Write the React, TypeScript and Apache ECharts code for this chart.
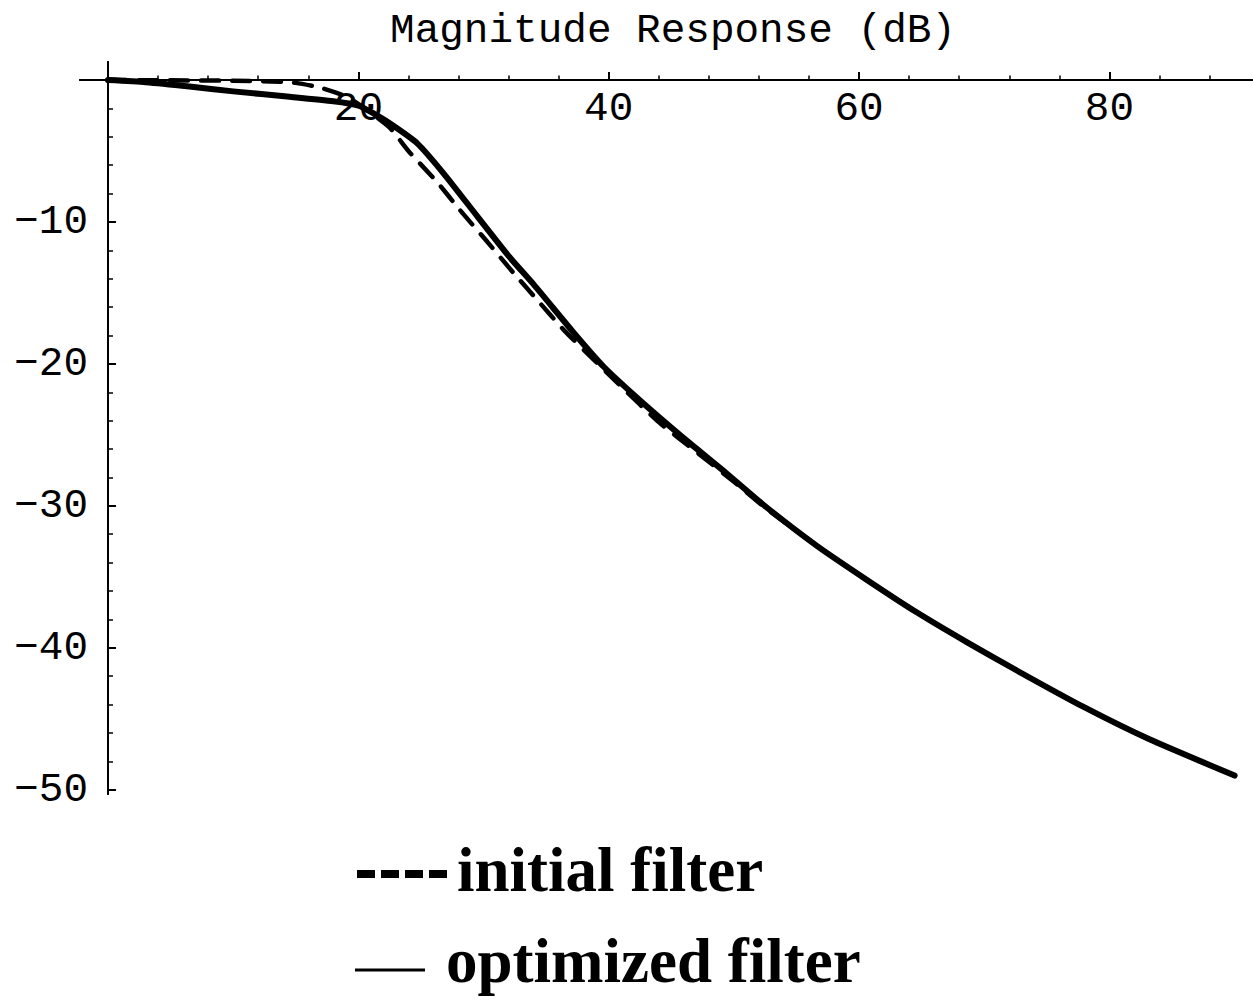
import React, { useEffect, useRef } from "react";
import * as echarts from "echarts";

// Frequency values (x) and magnitude in dB (y)
const freqOptimized = [0, 3, 6.5, 10, 14.5, 18, 20, 21, 22.5, 24.7, 26.8, 29.5, 32.1, 34, 37.2, 39.6, 42.8, 46.5, 49.4, 52.6, 56.6, 60.6, 64.6, 68.6, 72.6, 77.9, 83.2, 90];
const dbOptimized = [0, -0.15, -0.45, -0.8, -1.18, -1.5, -1.8, -2.25, -3.05, -4.46, -6.57, -9.6, -12.5, -14.4, -17.8, -20.2, -22.8, -25.6, -27.7, -30.1, -32.8, -35.2, -37.5, -39.6, -41.6, -44.15, -46.45, -49.0];

const freqInitial = [0, 5, 10, 13, 15, 17, 19, 20.5, 22.5, 24, 26.3, 28.1, 30.3, 32.4, 34.3, 36.4, 38.8, 41, 44, 47, 50, 52.6, 56.6, 60.6, 64.6, 68.6, 72.6, 77.9, 83.2, 90];
const dbInitial = [0, -0.02, -0.05, -0.1, -0.2, -0.55, -1.15, -2.0, -3.35, -5.0, -7.2, -9.15, -11.4, -13.6, -15.5, -17.6, -19.7, -21.6, -24.1, -26.2, -28.3, -30.2, -32.8, -35.2, -37.5, -39.6, -41.6, -44.15, -46.45, -49.0];

const xMajorTicks = [20, 40, 60, 80];
const xMinorTicks = [4, 8, 12, 16, 24, 28, 32, 36, 44, 48, 52, 56, 64, 68, 72, 76, 84, 88];
const yMajorTicks = [-10, -20, -30, -40, -50];
const yMinorTicks = [-2, -4, -6, -8, -12, -14, -16, -18, -22, -24, -26, -28, -32, -34, -36, -38, -42, -44, -46, -48];

const seriesNames = ["initial filter", "optimized filter"];
const legendLabels = ["initial filter", "optimized filter"];
const titleText = "Magnitude Response (dB)";

const MONO = "Liberation Mono";
const SERIF = "Liberation Serif";

export default function App() {
  const ref = useRef<HTMLDivElement>(null);

  useEffect(() => {
    if (!ref.current) return;
    const chart = echarts.init(ref.current, null, { renderer: "svg" });

    const xBase = {
      type: "value",
      min: -2.24,
      max: 91.47,
      position: "top",
      splitLine: { show: false },
      axisLine: { show: true, onZero: true, onZeroAxisIndex: 0, lineStyle: { color: "#000", width: 2 } },
    };
    const yBase = {
      type: "value",
      min: -50.3,
      max: 1.27,
      position: "left",
      splitLine: { show: false },
      axisLine: { show: true, onZero: true, onZeroAxisIndex: 0, lineStyle: { color: "#000", width: 2 } },
    };

    const legendText = { fontFamily: SERIF, fontWeight: "bold", fontSize: 63, fill: "#000" };

    const option = {
      animation: false,
      backgroundColor: "#fff",
      title: {
        text: titleText,
        left: 668,
        top: 5,
        textAlign: "center",
        textStyle: { fontFamily: MONO, fontSize: 41, fontWeight: "normal", color: "#000" },
      },
      grid: { left: 80, right: 0, top: 62, bottom: 206, containLabel: false },
      xAxis: [
        {
          ...xBase,
          axisTick: { show: true, inside: false, length: 8, customValues: xMajorTicks, lineStyle: { color: "#000", width: 2 } },
          axisLabel: {
            show: true,
            inside: true,
            customValues: xMajorTicks,
            margin: 26,
            fontFamily: MONO,
            fontSize: 41,
            color: "#000",
          },
        },
        {
          ...xBase,
          axisTick: { show: true, inside: false, length: 4.5, customValues: xMinorTicks, lineStyle: { color: "#000", width: 1.5 } },
          axisLabel: { show: false },
        },
      ],
      yAxis: [
        {
          ...yBase,
          axisTick: { show: true, inside: true, length: 8, customValues: yMajorTicks, lineStyle: { color: "#000", width: 2 } },
          axisLabel: {
            show: true,
            customValues: yMajorTicks,
            margin: -8,
            fontFamily: MONO,
            fontSize: 41,
            color: "#000",
            formatter: (v: number) => (v < 0 ? "\u2212" + Math.abs(v) : String(v)),
          },
        },
        {
          ...yBase,
          axisTick: { show: true, inside: true, length: 5, customValues: yMinorTicks, lineStyle: { color: "#000", width: 1.5 } },
          axisLabel: { show: false },
        },
      ],
      graphic: [
        {
          type: "line",
          shape: { x1: 357, y1: 874, x2: 447, y2: 874 },
          style: { stroke: "#000", lineWidth: 8, lineDash: [18, 6], lineCap: "butt" },
        },
        {
          type: "text",
          x: 457,
          y: 870,
          style: { ...legendText, text: legendLabels[0], align: "left", verticalAlign: "middle" },
        },
        {
          type: "line",
          shape: { x1: 355, y1: 970, x2: 425, y2: 970 },
          style: { stroke: "#000", lineWidth: 3, lineCap: "butt" },
        },
        {
          type: "text",
          x: 446,
          y: 961,
          style: { ...legendText, text: legendLabels[1], align: "left", verticalAlign: "middle" },
        },
      ],
      series: [
        {
          name: seriesNames[0],
          type: "line",
          xAxisIndex: 0,
          yAxisIndex: 0,
          symbol: "none",
          smooth: 0.2,
          data: freqInitial.map((f, i) => [f, dbInitial[i]]),
          lineStyle: { color: "#000", width: 4.5, type: [18, 13], cap: "round" },
          itemStyle: { color: "#000" },
        },
        {
          name: seriesNames[1],
          type: "line",
          xAxisIndex: 0,
          yAxisIndex: 0,
          symbol: "none",
          smooth: 0.2,
          data: freqOptimized.map((f, i) => [f, dbOptimized[i]]),
          lineStyle: { color: "#000", width: 6, type: "solid", cap: "round", join: "round" },
          itemStyle: { color: "#000" },
        },
      ],
    };

    chart.setOption(option as any);
    return () => chart.dispose();
  }, []);

  return (
    <div
      ref={ref}
      style={{ position: "absolute", left: 0, top: 0, width: 1253, height: 1000 }}
    />
  );
}
